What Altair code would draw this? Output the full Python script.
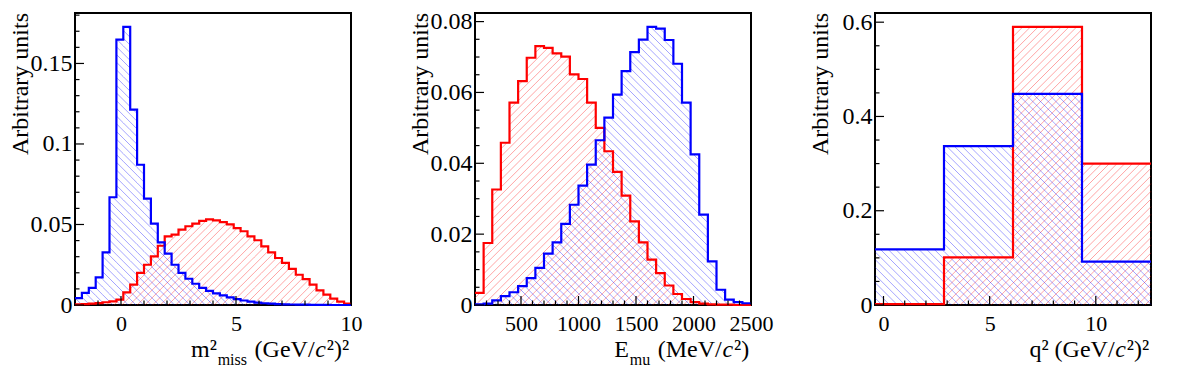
import math
import altair as alt
import pandas as pd

# ---------------- data ----------------
# Panel 1: m2_miss, 40 bins on [-2, 10]
m2_range = [-2.0, 10.0]
m2_blue = [0.0043, 0.0075, 0.0106, 0.0172, 0.0327, 0.0669, 0.1648, 0.1727, 0.1213, 0.0871,
           0.0660, 0.0505, 0.0389, 0.0319, 0.0250, 0.0199, 0.0163, 0.0132, 0.0106, 0.0088,
           0.0072, 0.0060, 0.0047, 0.0036, 0.0028, 0.0021, 0.0015, 0.0011, 0.0008, 0.0006,
           0.0004, 0.0003, 0.0002, 0.0002, 0.0001, 0.0001, 0.0001, 0.0, 0.0, 0.0]
m2_red = [0.0004, 0.0006, 0.0008, 0.0012, 0.0017, 0.0023, 0.0033, 0.0079, 0.0126, 0.0199,
          0.0250, 0.0302, 0.0368, 0.0426, 0.0437, 0.0468, 0.0489, 0.0505, 0.0522, 0.0532,
          0.0526, 0.0515, 0.0501, 0.0478, 0.0458, 0.0426, 0.0402, 0.0364, 0.0327, 0.0292,
          0.0261, 0.0224, 0.0188, 0.0161, 0.0126, 0.0091, 0.0064, 0.0039, 0.0021, 0.0008]
m2_y_major = [0, 0.05, 0.1, 0.15]
m2_y_minor = [0.01, 0.02, 0.03, 0.04, 0.06, 0.07, 0.08, 0.09, 0.11, 0.12, 0.13, 0.14,
              0.16, 0.17, 0.18]
m2_x_major = [0, 5, 10]
m2_x_minor = [-1, 1, 2, 3, 4, 6, 7, 8, 9]

# Panel 2: E_mu, 32 bins on [100, 2500]
emu_range = [100.0, 2500.0]
emu_blue = [0.0002, 0.0004, 0.0013, 0.0025, 0.0036, 0.0053, 0.0076, 0.0105, 0.0145, 0.0177,
            0.0229, 0.0283, 0.0337, 0.0396, 0.0465, 0.0529, 0.0594, 0.0660, 0.0714, 0.0749,
            0.0785, 0.0780, 0.0748, 0.0681, 0.0571, 0.0425, 0.0255, 0.0123, 0.0043, 0.0015,
            0.0008, 0.0005]
emu_red = [0.0034, 0.0175, 0.0326, 0.0458, 0.0571, 0.0632, 0.0698, 0.0731, 0.0726, 0.0710,
           0.0701, 0.0651, 0.0638, 0.0571, 0.0500, 0.0434, 0.0376, 0.0309, 0.0236, 0.0177,
           0.0128, 0.0090, 0.0055, 0.0031, 0.0017, 0.0008, 0.0004, 0.0002, 0.0001, 0.0001,
           0.0, 0.0]
emu_y_major = [0, 0.02, 0.04, 0.06, 0.08]
emu_y_minor = [0.005, 0.01, 0.015, 0.025, 0.03, 0.035, 0.045, 0.05, 0.055, 0.065, 0.07, 0.075]
emu_x_major = [500, 1000, 1500, 2000, 2500]
emu_x_minor = [200, 300, 400, 600, 700, 800, 900, 1100, 1200, 1300, 1400, 1600, 1700, 1800,
               1900, 2100, 2200, 2300, 2400]

# Panel 3: q2, 4 bins on [-0.4, 12.6]
q2_range = [-0.4, 12.6]
q2_blue = [0.118, 0.337, 0.448, 0.092]
q2_red = [0.002, 0.101, 0.590, 0.300]
q2_y_major = [0, 0.2, 0.4, 0.6]
q2_y_minor = [0.05, 0.1, 0.15, 0.25, 0.3, 0.35, 0.45, 0.5, 0.55]
q2_x_major = [0, 5, 10]
q2_x_minor = [1, 2, 3, 4, 6, 7, 8, 9, 11, 12]

y_title = "Arbitrary units"
# title pieces: (text, kind)
m2_title = [("m\u00b2", "main"), ("miss", "sub"), (" ", "gap"), ("(GeV/", "main"),
            ("c", "italic"), ("\u00b2)\u00b2", "main")]
emu_title = [("E", "main"), ("mu", "sub"), (" ", "gap"), ("(MeV/", "main"),
             ("c", "italic"), ("\u00b2)", "main")]
q2_title = [("q\u00b2 (GeV/", "main"), ("c", "italic"), ("\u00b2)\u00b2", "main")]

# ---------------- style ----------------
FONT = "Liberation Serif"
W, H = 276, 292
RED, BLUE = "#ff0000", "#0000ff"
HATCH_D = 7.7
FS, FS_SMALL = 24, 16
BASE, SUB_DY = 343.5, 8
PIECE_GAP = 0.8
TIMES_W = {' ': 250, '(': 333, ')': 333, '/': 278, '2': 500, 'G': 722, 'e': 444, 'V': 722,
           'M': 889, 'E': 611, 'm': 778, 'i': 278, 's': 389, 'u': 500, 'q': 500, 'c': 444,
           '\u00b2': 300}


def tw(s, fs):
    return sum(TIMES_W[ch] for ch in s) / 1000.0 * fs


def edges_of(rng, n):
    step = (rng[1] - rng[0]) / n
    return [rng[0] + i * step for i in range(n + 1)]


def step_df(edges, vals):
    xs = list(edges)
    ys = list(vals) + [vals[-1]]
    return pd.DataFrame({"x": xs, "y": ys})


def hatch_df(edges, vals, xdom, ymax, direction):
    x0, x1 = xdom
    sx = W / (x1 - x0)
    rows = []
    d = HATCH_D
    for i, v in enumerate(vals):
        if v <= 0:
            continue
        pa = (edges[i] - x0) * sx
        pb = (edges[i + 1] - x0) * sx
        pt = H - v / ymax * H
        if direction == "/":  # px + py = c
            k0 = math.ceil((pa + pt) / d)
            k1 = math.floor((pb + H) / d)
            for k in range(k0, k1 + 1):
                c = k * d
                lo = max(pa, c - H)
                hi = min(pb, c - pt)
                if hi - lo > 0.2:
                    rows.append((lo, c - lo, hi, c - hi))
        else:  # px - py = c
            k0 = math.ceil((pa - H) / d)
            k1 = math.floor((pb - pt) / d)
            for k in range(k0, k1 + 1):
                c = k * d
                lo = max(pa, c + pt)
                hi = min(pb, c + H)
                if hi - lo > 0.2:
                    rows.append((lo, lo - c, hi, hi - c))
    return pd.DataFrame({
        "x": [x0 + r[0] / sx for r in rows],
        "y": [(H - r[1]) / H * ymax for r in rows],
        "x2": [x0 + r[2] / sx for r in rows],
        "y2": [(H - r[3]) / H * ymax for r in rows],
    })


def title_layers(pieces, right):
    adv = []
    for txt, kind in pieces:
        adv.append(tw(txt, FS_SMALL if kind == "sub" else FS) + PIECE_GAP)
    x = right - sum(adv)
    layers = []
    one = pd.DataFrame({"k": [0]})
    for (txt, kind), a in zip(pieces, adv):
        if kind != "gap":
            fs = FS_SMALL if kind == "sub" else FS
            yb = BASE + SUB_DY if kind == "sub" else BASE
            style = "italic" if kind == "italic" else "normal"
            layers.append(
                alt.Chart(one).mark_text(text=txt, font=FONT, fontSize=fs, fontStyle=style,
                                         align="left", baseline="alphabetic", color="black")
                .encode(x=alt.value(x), y=alt.value(yb))
            )
        x += a
    return layers


def panel(rng, blue, red, y_major, y_minor, x_major, x_minor, pieces):
    n = len(blue)
    edges = edges_of(rng, n)
    ymax = 1.05 * max(max(blue), max(red))
    xs = alt.Scale(domain=rng, nice=False, zero=False)
    ys = alt.Scale(domain=[0, ymax], nice=False, zero=False)
    xax = alt.Axis(values=x_major, format="~f", ticks=False, domain=False, grid=False,
                   title=None, labelFlush=False, labelOverlap=False, labelPadding=25.5,
                   labelBaseline="alphabetic", tickSize=0, labelFont=FONT,
                   labelFontSize=22, labelColor="black")
    yax = alt.Axis(values=y_major, format="~f", ticks=False, domain=False, grid=False,
                   title=None, labelPadding=3, labelOverlap=False, tickSize=0,
                   labelBaseline="middle", labelFont=FONT, labelFontSize=24,
                   labelColor="black")

    def X(f="x"):
        return alt.X(f + ":Q", scale=xs, axis=xax)

    def Y(f="y"):
        return alt.Y(f + ":Q", scale=ys, axis=yax)

    layers = []
    for vals, col, direc, op in ((red, RED, "/", 0.45), (blue, BLUE, "\\", 0.45)):
        layers.append(
            alt.Chart(hatch_df(edges, vals, rng, ymax, direc))
            .mark_rule(color=col, strokeWidth=0.8, opacity=op)
            .encode(x=X(), y=Y(), x2="x2:Q", y2="y2:Q")
        )
    for vals, col in ((red, RED), (blue, BLUE)):
        layers.append(
            alt.Chart(step_df(edges, vals))
            .mark_line(interpolate="step-after", color=col, strokeWidth=2.2)
            .encode(x=X(), y=Y())
        )
    # inward ticks
    for vals, ln in ((y_major, 9), (y_minor, 4.5)):
        layers.append(
            alt.Chart(pd.DataFrame({"y": vals}))
            .mark_rule(color="black", strokeWidth=1.2)
            .encode(y=Y(), x=alt.value(0), x2=alt.value(ln))
        )
    for vals, ln in ((x_major, 9), (x_minor, 4.5)):
        layers.append(
            alt.Chart(pd.DataFrame({"x": vals}))
            .mark_rule(color="black", strokeWidth=1.2)
            .encode(x=X(), y=alt.value(H), y2=alt.value(H - ln))
        )
    layers.append(
        alt.Chart(pd.DataFrame({"k": [0]}))
        .mark_text(text=y_title, font=FONT, fontSize=FS, angle=270, align="right",
                   baseline="alphabetic", color="black")
        .encode(x=alt.value(-47), y=alt.value(0))
    )
    layers += title_layers(pieces, W - 1)
    return alt.layer(*layers).properties(width=W, height=H)


p1 = panel(m2_range, m2_blue, m2_red, m2_y_major, m2_y_minor, m2_x_major, m2_x_minor, m2_title)
p2 = panel(emu_range, emu_blue, emu_red, emu_y_major, emu_y_minor, emu_x_major, emu_x_minor, emu_title)
p3 = panel(q2_range, q2_blue, q2_red, q2_y_major, q2_y_minor, q2_x_major, q2_x_minor, q2_title)

chart = (
    alt.hconcat(p1, p2, p3, spacing=124, bounds="flush")
    .properties(padding={"left": 0, "top": 0, "right": 5, "bottom": 5}, background="white")
    .configure_view(stroke="black", strokeWidth=2)
    .configure_axis(labelFont=FONT, labelFontSize=24, labelColor="black")
)

chart.save("out.html", embed_options={"renderer": "svg", "actions": False})
